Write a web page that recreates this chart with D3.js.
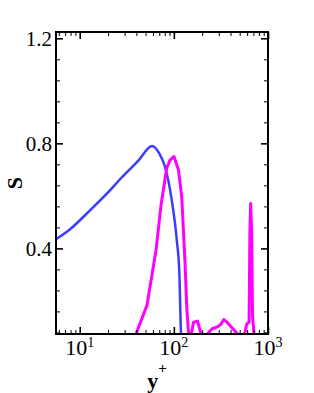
<!DOCTYPE html>
<html>
<head>
<meta charset="utf-8">
<script src="https://cdn.jsdelivr.net/npm/d3@7"></script>
<style>
  body { margin: 0; background: #fff; }
  svg { display: block; }
</style>
</head>
<body>
<div id="chart"></div>
<script>
// blue curve
var blueY = [5.6, 7.9, 12.3, 20.1, 27.9, 42.0, 58.6, 69.7, 80.5, 95.0, 107.4, 114.4, 119.2, 121];
var blueS = [0.435, 0.473, 0.538, 0.614, 0.670, 0.734, 0.790, 0.763, 0.711, 0.584, 0.432, 0.306, 0.070, 0.03];

// magenta curve
var magY = [36.8, 39.6, 51.9, 64.7, 73.1, 84.0, 91.0, 100.4, 112.1, 121.3, 131.5, 137.1, 143.3, 150.4,
    161.8, 178.5, 194.5, 209.4, 228.2, 254.6, 295.1, 317.1, 339.6, 367.3, 410.3, 475.3, 517.6,
    563.6, 595.2, 629.6, 642.7, 655.0, 669.8, 685.5, 711.2, 738.0];
var magS = [0.032, 0.074, 0.184, 0.394, 0.565, 0.706, 0.736, 0.750, 0.698, 0.595, 0.344, 0.176, 0.077, 0.058,
    0.119, 0.123, 0.074, 0.032, 0.074, 0.094, 0.102, 0.112, 0.129, 0.119, 0.100, 0.074, 0.051,
    0.074, 0.112, 0.119, 0.470, 0.571, 0.470, 0.138, 0.074, 0.032];

var yTicks = [0.4, 0.8, 1.2];
var yTickLabels = ["0.4", "0.8", "1.2"];
var yMinor = [0.08, 0.16, 0.24, 0.32, 0.48, 0.56, 0.64, 0.72, 0.88, 0.96, 1.04, 1.12];
var xTicks = [10, 100, 1000];
var xTickExp = ["1", "2", "3"];
var xMinor = [6, 7, 8, 9, 20, 30, 40, 50, 60, 70, 80, 90, 200, 300, 400, 500, 600, 700, 800, 900];

var W = 314, H = 393;
var pLeft = 56, pRight = 268, pTop = 32, pBottom = 334;
var font = "Liberation Serif";

var svg = d3.select("#chart").append("svg")
    .attr("width", W)
    .attr("height", H);

var x = d3.scaleLog().domain([5.6, 1000]).range([pLeft, pRight]);
var y = d3.scaleLinear().domain([0.074, 1.224]).range([pBottom, pTop]);

// clip
svg.append("defs").append("clipPath")
    .attr("id", "clip")
    .append("rect")
    .attr("x", pLeft).attr("y", pTop)
    .attr("width", pRight - pLeft).attr("height", pBottom - pTop);

var plot = svg.append("g").attr("clip-path", "url(#clip)");

var line = d3.line()
    .x(function (d) { return x(d[0]); })
    .y(function (d) { return y(d[1]); });

plot.append("path")
    .datum(blueY.map(function (v, i) { return [v, blueS[i]]; }))
    .attr("d", line.curve(d3.curveMonotoneX))
    .attr("fill", "none")
    .attr("stroke", "#3c3cff")
    .attr("stroke-width", 2.5);

plot.append("path")
    .datum(magY.map(function (v, i) { return [v, magS[i]]; }))
    .attr("d", line.curve(d3.curveLinear))
    .attr("fill", "none")
    .attr("stroke", "#ff00ff")
    .attr("stroke-width", 3)
    .attr("stroke-linejoin", "round");

// ticks, all pointing inwards
function tickStyle(g, w) {
    g.select(".domain").remove();
    g.selectAll(".tick line").attr("stroke", "#000").attr("stroke-width", w);
}

svg.append("g")
    .attr("transform", "translate(" + pLeft + ",0)")
    .call(d3.axisLeft(y).tickValues(yMinor).tickSize(-4).tickFormat(""))
    .call(tickStyle, 1);
svg.append("g")
    .attr("transform", "translate(" + pRight + ",0)")
    .call(d3.axisRight(y).tickValues(yMinor).tickSize(-4).tickFormat(""))
    .call(tickStyle, 1);
svg.append("g")
    .attr("transform", "translate(" + pRight + ",0)")
    .call(d3.axisRight(y).tickValues(yTicks).tickSize(-7).tickFormat(""))
    .call(tickStyle, 1.6);

svg.append("g")
    .attr("transform", "translate(" + pLeft + ",0)")
    .call(d3.axisLeft(y).tickValues(yTicks).tickSize(-7).tickPadding(5)
        .tickFormat(function (d, i) { return yTickLabels[i]; }))
    .call(tickStyle, 1.6)
    .call(function (g) {
        g.attr("font-family", font).attr("font-size", 21);
        g.selectAll("text")
            .attr("x", -4)
            .attr("dy", "0.34em")
            .attr("fill", "#000");
    });

svg.append("g")
    .attr("transform", "translate(0," + pBottom + ")")
    .call(d3.axisBottom(x).tickValues(xMinor).tickSize(-4).tickFormat(""))
    .call(tickStyle, 1);
svg.append("g")
    .attr("transform", "translate(0," + pTop + ")")
    .call(d3.axisTop(x).tickValues(xMinor).tickSize(-4).tickFormat(""))
    .call(tickStyle, 1);
svg.append("g")
    .attr("transform", "translate(0," + pBottom + ")")
    .call(d3.axisBottom(x).tickValues(xTicks).tickSize(-7).tickFormat(""))
    .call(tickStyle, 1.6);
svg.append("g")
    .attr("transform", "translate(0," + pTop + ")")
    .call(d3.axisTop(x).tickValues(xTicks).tickSize(-7).tickFormat(""))
    .call(tickStyle, 1.6);

// x tick labels 10^n
var xl = svg.append("g")
    .attr("font-family", font)
    .selectAll("text")
    .data(xTicks)
    .enter()
    .append("text")
    .attr("x", function (d) { return x(d); })
    .attr("y", 355)
    .attr("text-anchor", "middle")
    .attr("font-size", 22)
    .attr("fill", "#000");
xl.append("tspan").text("10");
xl.append("tspan")
    .attr("dy", -8.5)
    .attr("font-size", 14)
    .text(function (d, i) { return xTickExp[i]; });

// frame
svg.append("rect")
    .attr("x", pLeft).attr("y", pTop)
    .attr("width", pRight - pLeft).attr("height", pBottom - pTop)
    .attr("fill", "none")
    .attr("stroke", "#000")
    .attr("stroke-width", 2);

// axis titles
svg.append("text")
    .attr("transform", "translate(22,183) rotate(-90)")
    .attr("text-anchor", "middle")
    .attr("font-family", font)
    .attr("font-weight", "bold")
    .attr("font-size", 22)
    .text("S");

var xt = svg.append("text")
    .attr("x", 157)
    .attr("y", 388)
    .attr("text-anchor", "middle")
    .attr("font-family", font)
    .attr("font-weight", "bold")
    .attr("font-size", 22);
xt.append("tspan").text("y");
xt.append("tspan").attr("dy", -15).attr("font-size", 15).text("+");
</script>
</body>
</html>
